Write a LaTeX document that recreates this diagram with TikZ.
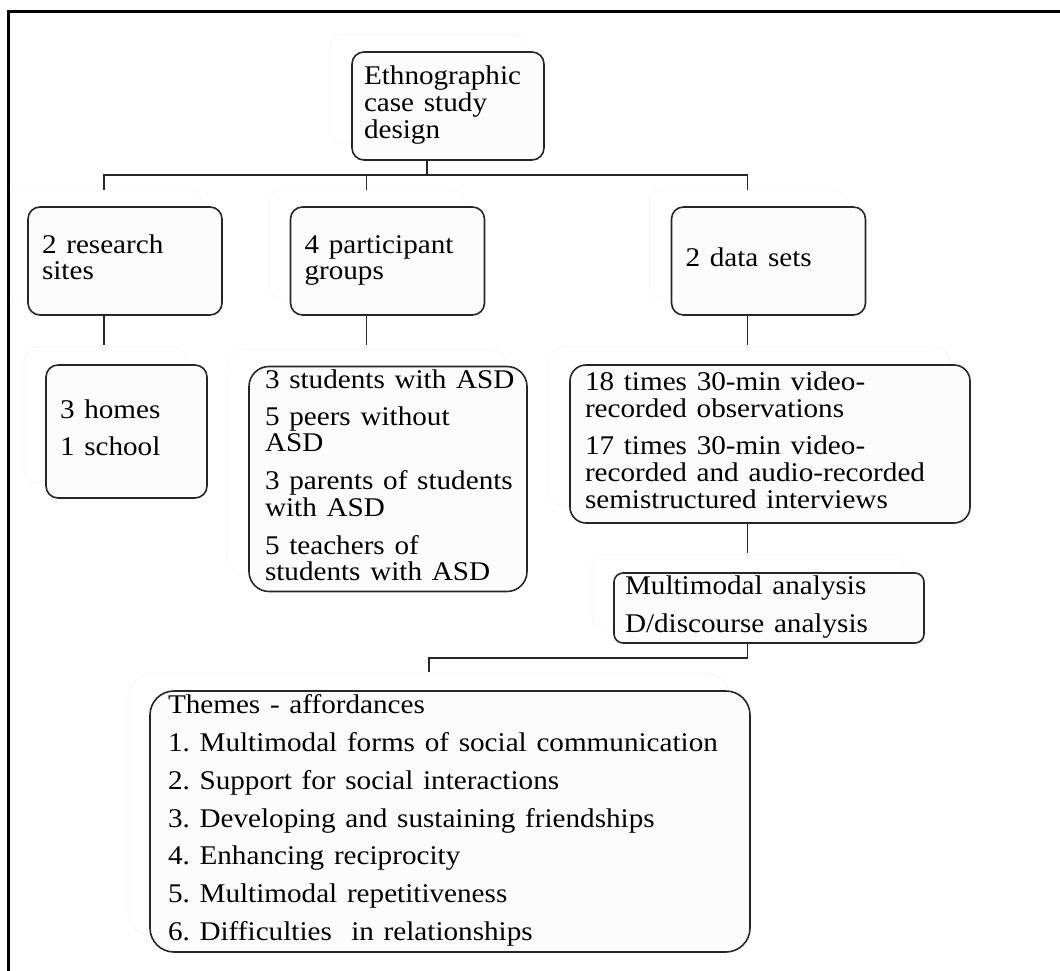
\documentclass[tikz,border=0pt]{standalone}
\usepackage{fontspec}
\setmainfont{Liberation Serif}
\usepackage{graphicx}
\usetikzlibrary{calc,backgrounds}
\frenchspacing
\newcommand{\sx}[1]{\scalebox{1.08}[1]{#1}}
\tikzset{
  box/.style={draw=black!85, line width=1.6pt, fill=black!1, rounded corners=12pt,
    inner ysep=0pt, align=left, font=\fontsize{27}{26}\selectfont\frenchspacing},
  ghost/.style={draw=black!3, line width=1pt},
  conn/.style={draw=black!85, line width=1.8pt},
  frame/.style={draw=black, line width=3pt}
}
\begin{document}
\begin{tikzpicture}[x=1pt,y=-1pt]
\useasboundingbox (0,0) rectangle (1060,970);
\draw[frame] (8,975) -- (8,11) -- (1065,11);

\node[box, minimum width=192pt, minimum height=108pt, text width=168pt, inner xsep=12pt] (root) at (448,106)
  {\sx{\begin{tabular}{@{}l@{}}Ethnographic\\case study\\design\end{tabular}}};
\node[box, minimum width=194pt, minimum height=108pt, text width=166pt, inner xsep=14pt] (sites) at (125,261)
  {\sx{\begin{tabular}{@{}l@{}}2 research\\sites\end{tabular}}};
\node[box, minimum width=194pt, minimum height=108pt, text width=166pt, inner xsep=14pt] (groups) at (387.5,261)
  {\sx{\begin{tabular}{@{}l@{}}4 participant\\groups\end{tabular}}};
\node[box, minimum width=194pt, minimum height=108pt, text width=166pt, inner xsep=14pt] (sets) at (768.5,261)
  {\sx{\begin{tabular}{@{}l@{}}2 data sets\end{tabular}}};
\node[box, minimum width=161pt, minimum height=133pt, text width=133pt, inner xsep=14pt] (homes) at (126.5,431.5)
  {\sx{\begin{tabular}{@{}l@{}}3 homes\\[11pt]1 school\end{tabular}}};
\node[box, rounded corners=20pt, minimum width=278pt, minimum height=225pt, text width=246pt, inner xsep=16pt] (plist) at (388,479)
  {\sx{\begin{tabular}{@{}l@{}}3 students with ASD\\[11pt]5 peers without\\ASD\\[11pt]3 parents of students\\with ASD\\[11pt]5 teachers of\\students with ASD\end{tabular}}};
\node[box, rounded corners=16pt, minimum width=400pt, minimum height=158pt, text width=370pt, inner xsep=15pt] (dlist) at (770,444)
  {\sx{\begin{tabular}{@{}l@{}}18 times 30-min video-\\recorded observations\\[11pt]17 times 30-min video-\\recorded and audio-recorded\\semistructured interviews\end{tabular}}};
\node[box, rounded corners=9pt, minimum width=310pt, minimum height=70pt, text width=288pt, inner xsep=11pt] (mm) at (769,608)
  {\sx{\begin{tabular}{@{}l@{}}Multimodal analysis\\[11pt]D/discourse analysis\end{tabular}}};
\node[box, rounded corners=24pt, minimum width=600pt, minimum height=261pt, text width=564pt, inner xsep=18pt] (themes) at (450,821.5)
  {\sx{\begin{tabular}{@{}l@{}}Themes - affordances\\[11pt]1. Multimodal forms of social communication\\[11pt]2. Support for social interactions\\[11pt]3. Developing and sustaining friendships\\[11pt]4. Enhancing reciprocity\\[11pt]5. Multimodal repetitiveness\\[11pt]6. Difficulties\ \ in relationships\end{tabular}}};

\begin{scope}[on background layer]
\foreach \n/\r in {root/12,sites/12,groups/12,sets/12,homes/12,plist/20,dlist/16,mm/9,themes/24}
  \draw[ghost, rounded corners=\r pt] ($(\n.north west)+(-21,-17)$) rectangle ($(\n.south east)+(-21,-17)$);
\end{scope}

\coordinate (jr) at (427,175);
\coordinate (e1) at (104,190);
\coordinate (e2) at (366.5,190);
\coordinate (e3) at (747.5,190);
\draw[conn] (root.south -| jr) -- (jr);
\draw[conn] (e1) |- (jr) -| (e3);
\draw[conn] (e2 |- jr) -- (e2);

\coordinate (f1) at (104,345);
\coordinate (f2) at (366.5,345);
\coordinate (f3) at (747.5,345);
\draw[conn] (sites.south -| f1) -- (f1);
\draw[conn] (groups.south -| f2) -- (f2);
\draw[conn] (sets.south -| f3) -- (f3);

\coordinate (g) at (747.5,553);
\draw[conn] (dlist.south -| g) -- (g);

\coordinate (hj) at (747.5,658);
\coordinate (h) at (429,672);
\draw[conn] (mm.south -| hj) -- (hj) -| (h);
\end{tikzpicture}
\end{document}
